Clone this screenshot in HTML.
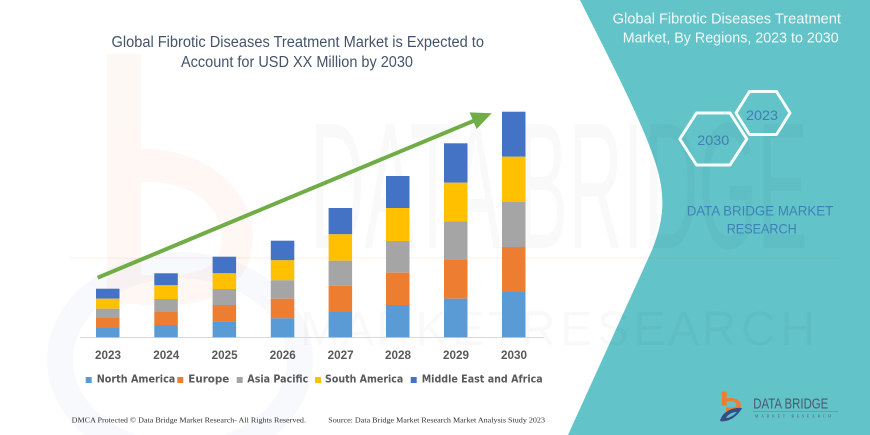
<!DOCTYPE html>
<html>
<head>
<meta charset="utf-8">
<style>
  html,body{margin:0;padding:0;background:#fff;}
  svg{display:block;}
</style>
</head>
<body>
<svg width="870" height="435" viewBox="0 0 870 435" xmlns="http://www.w3.org/2000/svg">
  <rect x="0" y="0" width="870" height="435" fill="#ffffff"/>

  <!-- faint logo watermark on left -->
  <g opacity="0.05">
    <rect x="107" y="54" width="34" height="250" fill="#ed7d31"/>
    <path d="M124,150 C200,140 255,190 253,240 C251,285 215,305 170,305 L141,305 L141,275 L175,275 C205,275 222,260 222,238 C222,205 190,180 141,182 Z" fill="#ed7d31"/>
  </g>
  <g opacity="0.04">
    <ellipse cx="180" cy="360" rx="120" ry="95" fill="none" stroke="#4472c4" stroke-width="26"/>
  </g>

  <!-- teal panel -->
  <path d="M580,0 L870,0 L870,435 L568,435 L652,250 C662,225 665,205 660,180 C652,140 615,70 580,0 Z" fill="#62c3c8"/>

  <!-- big watermark text -->
  <text x="310" y="248" font-family="Liberation Sans, sans-serif" font-size="180" textLength="498" lengthAdjust="spacingAndGlyphs" fill="#000" opacity="0.018" stroke="#000" stroke-width="0">DATA BRIDGE</text>
  <line x1="70" y1="258" x2="840" y2="258" stroke="#ed7d31" stroke-width="2" opacity="0.05"/>
  <text x="300" y="345" font-family="Liberation Sans, sans-serif" font-size="48" textLength="515" lengthAdjust="spacing" fill="#000" opacity="0.02">M A R K E T   R E S E A R C H</text>

  <!-- left title -->
  <g font-family="Liberation Sans, sans-serif" fill="#44546a" font-size="15.5">
    <text x="111.5" y="47" textLength="372.5" lengthAdjust="spacingAndGlyphs">Global Fibrotic Diseases Treatment Market is Expected to</text>
    <text x="181" y="67" textLength="232" lengthAdjust="spacingAndGlyphs">Account for USD XX Million by 2030</text>
  </g>

  <!-- axis line -->
  <line x1="80" y1="337.5" x2="544" y2="337.5" stroke="#d9d9d9" stroke-width="1"/>

  <!-- bars -->
  <g>
    <rect x="96" y="288.7" width="23.5" height="10" fill="#4472c4"/>
    <rect x="96" y="298.7" width="23.5" height="10" fill="#ffc000"/>
    <rect x="96" y="308.7" width="23.5" height="9.3" fill="#a5a5a5"/>
    <rect x="96" y="318" width="23.5" height="10" fill="#ed7d31"/>
    <rect x="96" y="328" width="23.5" height="9.3" fill="#5b9bd5"/>

    <rect x="154.3" y="273.3" width="23.5" height="12" fill="#4472c4"/>
    <rect x="154.3" y="285.3" width="23.5" height="13.7" fill="#ffc000"/>
    <rect x="154.3" y="299" width="23.5" height="13" fill="#a5a5a5"/>
    <rect x="154.3" y="312" width="23.5" height="13" fill="#ed7d31"/>
    <rect x="154.3" y="325" width="23.5" height="12.3" fill="#5b9bd5"/>

    <rect x="212.6" y="256.7" width="23.5" height="16.6" fill="#4472c4"/>
    <rect x="212.6" y="273.3" width="23.5" height="15.7" fill="#ffc000"/>
    <rect x="212.6" y="289" width="23.5" height="16" fill="#a5a5a5"/>
    <rect x="212.6" y="305" width="23.5" height="16.3" fill="#ed7d31"/>
    <rect x="212.6" y="321.3" width="23.5" height="16" fill="#5b9bd5"/>

    <rect x="270.8" y="240.7" width="23.5" height="19.6" fill="#4472c4"/>
    <rect x="270.8" y="260.3" width="23.5" height="20" fill="#ffc000"/>
    <rect x="270.8" y="280.3" width="23.5" height="18.4" fill="#a5a5a5"/>
    <rect x="270.8" y="298.7" width="23.5" height="19.6" fill="#ed7d31"/>
    <rect x="270.8" y="318.3" width="23.5" height="19" fill="#5b9bd5"/>

    <rect x="328.6" y="208" width="23.5" height="26.3" fill="#4472c4"/>
    <rect x="328.6" y="234.3" width="23.5" height="26.4" fill="#ffc000"/>
    <rect x="328.6" y="260.7" width="23.5" height="25" fill="#a5a5a5"/>
    <rect x="328.6" y="285.7" width="23.5" height="26.3" fill="#ed7d31"/>
    <rect x="328.6" y="312" width="23.5" height="25.3" fill="#5b9bd5"/>

    <rect x="386" y="176" width="23.5" height="32" fill="#4472c4"/>
    <rect x="386" y="208" width="23.5" height="33" fill="#ffc000"/>
    <rect x="386" y="241" width="23.5" height="31.7" fill="#a5a5a5"/>
    <rect x="386" y="272.7" width="23.5" height="32.3" fill="#ed7d31"/>
    <rect x="386" y="305" width="23.5" height="32.3" fill="#5b9bd5"/>

    <rect x="444" y="143.3" width="23.5" height="39.4" fill="#4472c4"/>
    <rect x="444" y="182.7" width="23.5" height="38.6" fill="#ffc000"/>
    <rect x="444" y="221.3" width="23.5" height="38.7" fill="#a5a5a5"/>
    <rect x="444" y="260" width="23.5" height="38.7" fill="#ed7d31"/>
    <rect x="444" y="298.7" width="23.5" height="38.6" fill="#5b9bd5"/>

    <rect x="502" y="111.7" width="23.5" height="45" fill="#4472c4"/>
    <rect x="502" y="156.7" width="23.5" height="45" fill="#ffc000"/>
    <rect x="502" y="201.7" width="23.5" height="45.3" fill="#a5a5a5"/>
    <rect x="502" y="247" width="23.5" height="45" fill="#ed7d31"/>
    <rect x="502" y="292" width="23.5" height="45.3" fill="#5b9bd5"/>
  </g>

  <!-- green arrow -->
  <line x1="97.7" y1="277.7" x2="474" y2="120.7" stroke="#70ad47" stroke-width="4" stroke-linecap="butt"/>
  <polygon points="491.7,113.3 476.6,129.0 469.6,112.4" fill="#70ad47"/>

  <!-- year labels -->
  <g font-family="Liberation Sans, sans-serif" font-weight="bold" font-size="11.5" fill="#595959">
    <text x="95" y="359" textLength="26" lengthAdjust="spacingAndGlyphs">2023</text>
    <text x="153.3" y="359" textLength="26" lengthAdjust="spacingAndGlyphs">2024</text>
    <text x="211.6" y="359" textLength="26" lengthAdjust="spacingAndGlyphs">2025</text>
    <text x="269.8" y="359" textLength="26" lengthAdjust="spacingAndGlyphs">2026</text>
    <text x="327.6" y="359" textLength="26" lengthAdjust="spacingAndGlyphs">2027</text>
    <text x="385" y="359" textLength="26" lengthAdjust="spacingAndGlyphs">2028</text>
    <text x="443" y="359" textLength="26" lengthAdjust="spacingAndGlyphs">2029</text>
    <text x="501" y="359" textLength="26" lengthAdjust="spacingAndGlyphs">2030</text>
  </g>

  <!-- legend -->
  <g>
    <rect x="85.7" y="377" width="6" height="6" fill="#5b9bd5"/>
    <rect x="177.3" y="377" width="6" height="6" fill="#ed7d31"/>
    <rect x="236.7" y="377" width="6" height="6" fill="#a5a5a5"/>
    <rect x="315" y="377" width="6" height="6" fill="#ffc000"/>
    <rect x="410.7" y="377" width="6" height="6" fill="#4472c4"/>
  </g>
  <g font-family="DejaVu Sans, Liberation Sans, sans-serif" font-weight="bold" font-size="11" fill="#595959">
    <text x="96.7" y="382.7" textLength="78.6" lengthAdjust="spacingAndGlyphs">North America</text>
    <text x="188.3" y="382.7" textLength="41" lengthAdjust="spacingAndGlyphs">Europe</text>
    <text x="247.3" y="382.7" textLength="61" lengthAdjust="spacingAndGlyphs">Asia Pacific</text>
    <text x="325" y="382.7" textLength="78.3" lengthAdjust="spacingAndGlyphs">South America</text>
    <text x="421.7" y="382.7" textLength="121" lengthAdjust="spacingAndGlyphs">Middle East and Africa</text>
  </g>

  <!-- footer -->
  <g font-family="Liberation Serif, serif" font-size="7.5" fill="#333333">
    <text x="71.7" y="422.3" textLength="234.3" lengthAdjust="spacingAndGlyphs">DMCA Protected © Data Bridge Market Research-  All Rights Reserved.</text>
    <text x="328.3" y="422.3" textLength="216.7" lengthAdjust="spacingAndGlyphs">Source: Data Bridge Market Research  Market Analysis Study 2023</text>
  </g>

  <!-- right panel title -->
  <g font-family="Liberation Sans, sans-serif" fill="#f2fafa" font-size="14.5">
    <text x="612.7" y="23.5" textLength="228.3" lengthAdjust="spacingAndGlyphs">Global Fibrotic Diseases Treatment</text>
    <text x="622.7" y="42.5" textLength="216" lengthAdjust="spacingAndGlyphs">Market, By Regions, 2023 to 2030</text>
  </g>

  <!-- hexagons -->
  <g fill="none" stroke="#f4fbfb" stroke-width="3" stroke-linejoin="round">
    <polygon points="679.8,139 696.5,113 730,113 746.8,139 730,165 696.5,165"/>
    <polygon points="736,113 749.5,91.5 776.5,91.5 790,113 776.5,134.5 749.5,134.5"/>
  </g>
  <g font-family="Liberation Sans, sans-serif" fill="#3f7fb3" font-size="14">
    <text x="713.3" y="145" text-anchor="middle" textLength="32" lengthAdjust="spacingAndGlyphs">2030</text>
    <text x="762" y="120" text-anchor="middle" textLength="32" lengthAdjust="spacingAndGlyphs">2023</text>
  </g>

  <g font-family="Liberation Sans, sans-serif" fill="#3f80b8" font-size="14">
    <text x="686.7" y="215.5" textLength="146.6" lengthAdjust="spacingAndGlyphs">DATA BRIDGE MARKET</text>
    <text x="726.7" y="233.5" textLength="70" lengthAdjust="spacingAndGlyphs">RESEARCH</text>
  </g>

  <!-- bottom-right logo -->
  <g>
    <rect x="721.7" y="391.7" width="5" height="14" fill="#ed7d31"/>
    <path d="M724,399 C734,396 741,400 741,405 C741,409 736,411 730,411 L726,411 L726,407.5 L730,407.5 C734,407.5 736.5,406.5 736.5,404.5 C736.5,401.5 731,400.5 724,402 Z" fill="#ed7d31"/>
    <path d="M720,421 C722,412 732,407 742,408 C738,416 728,423 720,421 Z" fill="#2f4f86"/>
    <path d="M726,418 C728,414 733,412 737,412 C734,415 730,418 726,418 Z" fill="#62c3c8"/>
  </g>
  <text x="753.3" y="408.3" font-family="Liberation Sans, sans-serif" font-size="15" fill="#4b5a6b" textLength="75" lengthAdjust="spacingAndGlyphs">DATA BRIDGE</text>
  <line x1="753" y1="411.7" x2="838" y2="411.7" stroke="#6f8796" stroke-width="0.7"/>
  <text x="755" y="417.5" font-family="Liberation Serif, serif" font-size="3.8" fill="#4b5a6b" textLength="76" lengthAdjust="spacing">MARKET RESEARCH</text>
</svg>
</body>
</html>
